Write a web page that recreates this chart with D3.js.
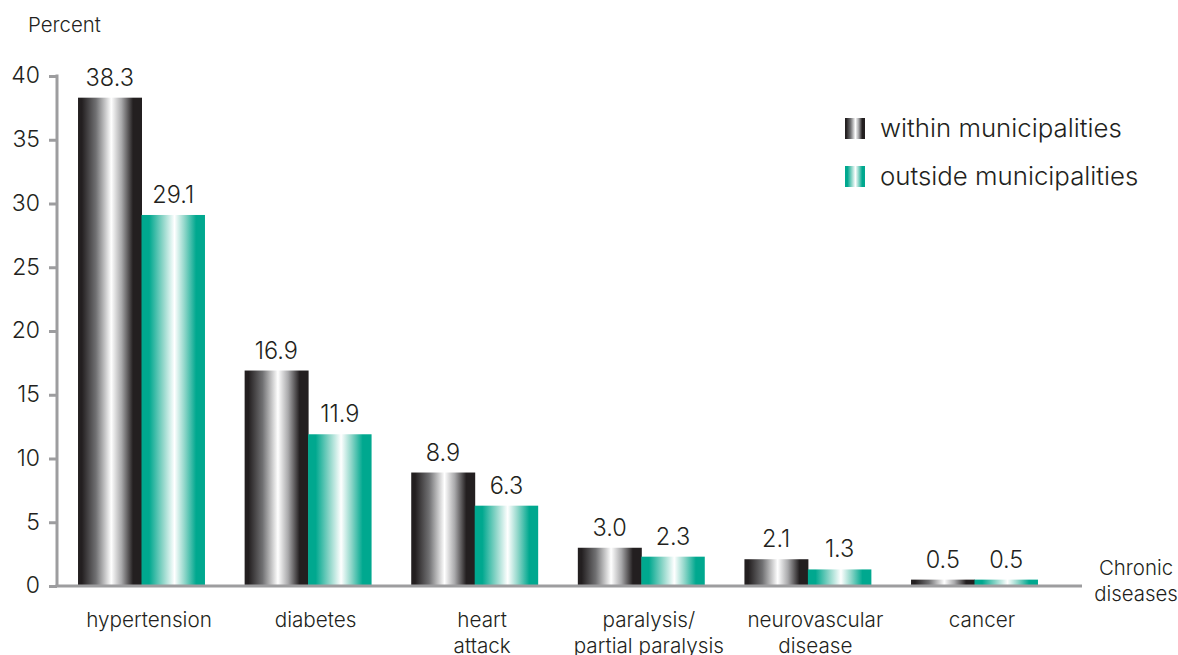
<!DOCTYPE html>
<html><head><meta charset="utf-8">
<script src="https://cdn.jsdelivr.net/npm/d3@7"></script>
<style>
html,body{margin:0;padding:0;background:#fff;}
text{font-family:"Inter","Liberation Sans",Arial,sans-serif;font-weight:300;fill:#231f20;}
</style></head>
<body><svg id="c" width="1178" height="655"></svg>
<script>
const categories = [["hypertension"],["diabetes"],["heart","attack"],["paralysis/","partial paralysis"],["neurovascular","disease"],["cancer"]];
const within = [38.3, 16.9, 8.9, 3.0, 2.1, 0.5];
const outside = [29.1, 11.9, 6.3, 2.3, 1.3, 0.5];
const seriesNames = ["within municipalities","outside municipalities"];
const yTicks = [0,5,10,15,20,25,30,35,40];

const svg = d3.select("#c");
const defs = svg.append("defs");
function grad(id, stops){
  const g = defs.append("linearGradient").attr("id", id).attr("x1","0%").attr("x2","100%").attr("y1","0%").attr("y2","0%");
  stops.forEach(s => g.append("stop").attr("offset", s[0]).attr("stop-color", s[1]));
}
grad("gBlack", [["0%","#231f20"],["6%","#231f20"],["28%","#707072"],["52%","#ffffff"],["68%","#a9a9ab"],["86%","#231f20"],["100%","#231f20"]]);
grad("gTeal", [["0%","#00a88f"],["12%","#00a88f"],["34%","#8fd6c9"],["52%","#ffffff"],["68%","#8fd6c9"],["86%","#00a88f"],["100%","#00a88f"]]);
const fills = ["url(#gBlack)","url(#gTeal)"];

const y = d3.scaleLinear().domain([0,40]).range([586,76]);
const keys = categories.map(c => c.join(" "));
const x = d3.scaleBand().domain(keys).range([58.2,1057.8]).paddingInner(0.238).paddingOuter(0.119);
const xs = d3.scaleBand().domain([0,1]).range([0, x.bandwidth()]);
const labelShift = 7.5;

// bars
const data = keys.map((k,i) => ({k, lines: categories[i], vals:[within[i], outside[i]]}));
const g = svg.append("g");
data.forEach(d => {
  d.vals.forEach((v,j) => {
    g.append("rect").attr("x", x(d.k)+xs(j)).attr("width", xs.bandwidth()+ (j===0?0.5:0))
      .attr("y", y(v)).attr("height", y(0)-y(v)).attr("fill", fills[j]);
    g.append("text").attr("x", x(d.k)+xs(j)+xs.bandwidth()/2).attr("y", y(v)-12)
      .attr("text-anchor","middle").attr("font-size",23.5).text(v.toFixed(1));
  });
  const cx = x(d.k)+x.bandwidth()/2+labelShift;
  const t = g.append("text").attr("text-anchor","middle").attr("font-size",20.7)
    .attr("x", cx).attr("y", 627);
  d.lines.forEach((l,li) => t.append("tspan").attr("x", cx).attr("dy", li===0?0:26).text(l));
});

// y axis
const ax = svg.append("g").attr("transform","translate(57,0)")
  .call(d3.axisLeft(y).tickValues(yTicks).tickSize(8).tickPadding(9).tickFormat(d3.format("d")));
ax.select(".domain").remove();
ax.selectAll(".tick line").attr("stroke","#9d9d9f").attr("stroke-width",3);
ax.selectAll(".tick text").attr("font-size",23).attr("fill","#231f20").attr("dy","0.3em");
svg.append("line").attr("x1",57).attr("x2",57).attr("y1",y(40)-1.5).attr("y2",y(0)).attr("stroke","#9d9d9f").attr("stroke-width",3);
svg.append("line").attr("x1",55.5).attr("x2",1082).attr("y1",y(0)).attr("y2",y(0)).attr("stroke","#9d9d9f").attr("stroke-width",3);

svg.append("text").attr("x",28).attr("y",32).attr("font-size",20.4).text("Percent");
const ct = svg.append("text").attr("text-anchor","middle").attr("font-size",20.4).attr("x",1136).attr("y",575);
ct.append("tspan").attr("x",1136).text("Chronic");
ct.append("tspan").attr("x",1136).attr("dy",26).text("diseases");

// legend
seriesNames.forEach((n,i) => {
  const ly = 128 + i*48;
  svg.append("rect").attr("x",845).attr("y",ly-10).attr("width",20).attr("height",21).attr("fill",fills[i]);
  svg.append("text").attr("x",880).attr("y",ly).attr("dy","0.35em").attr("font-size",25.8).text(n);
});
</script></body></html>
